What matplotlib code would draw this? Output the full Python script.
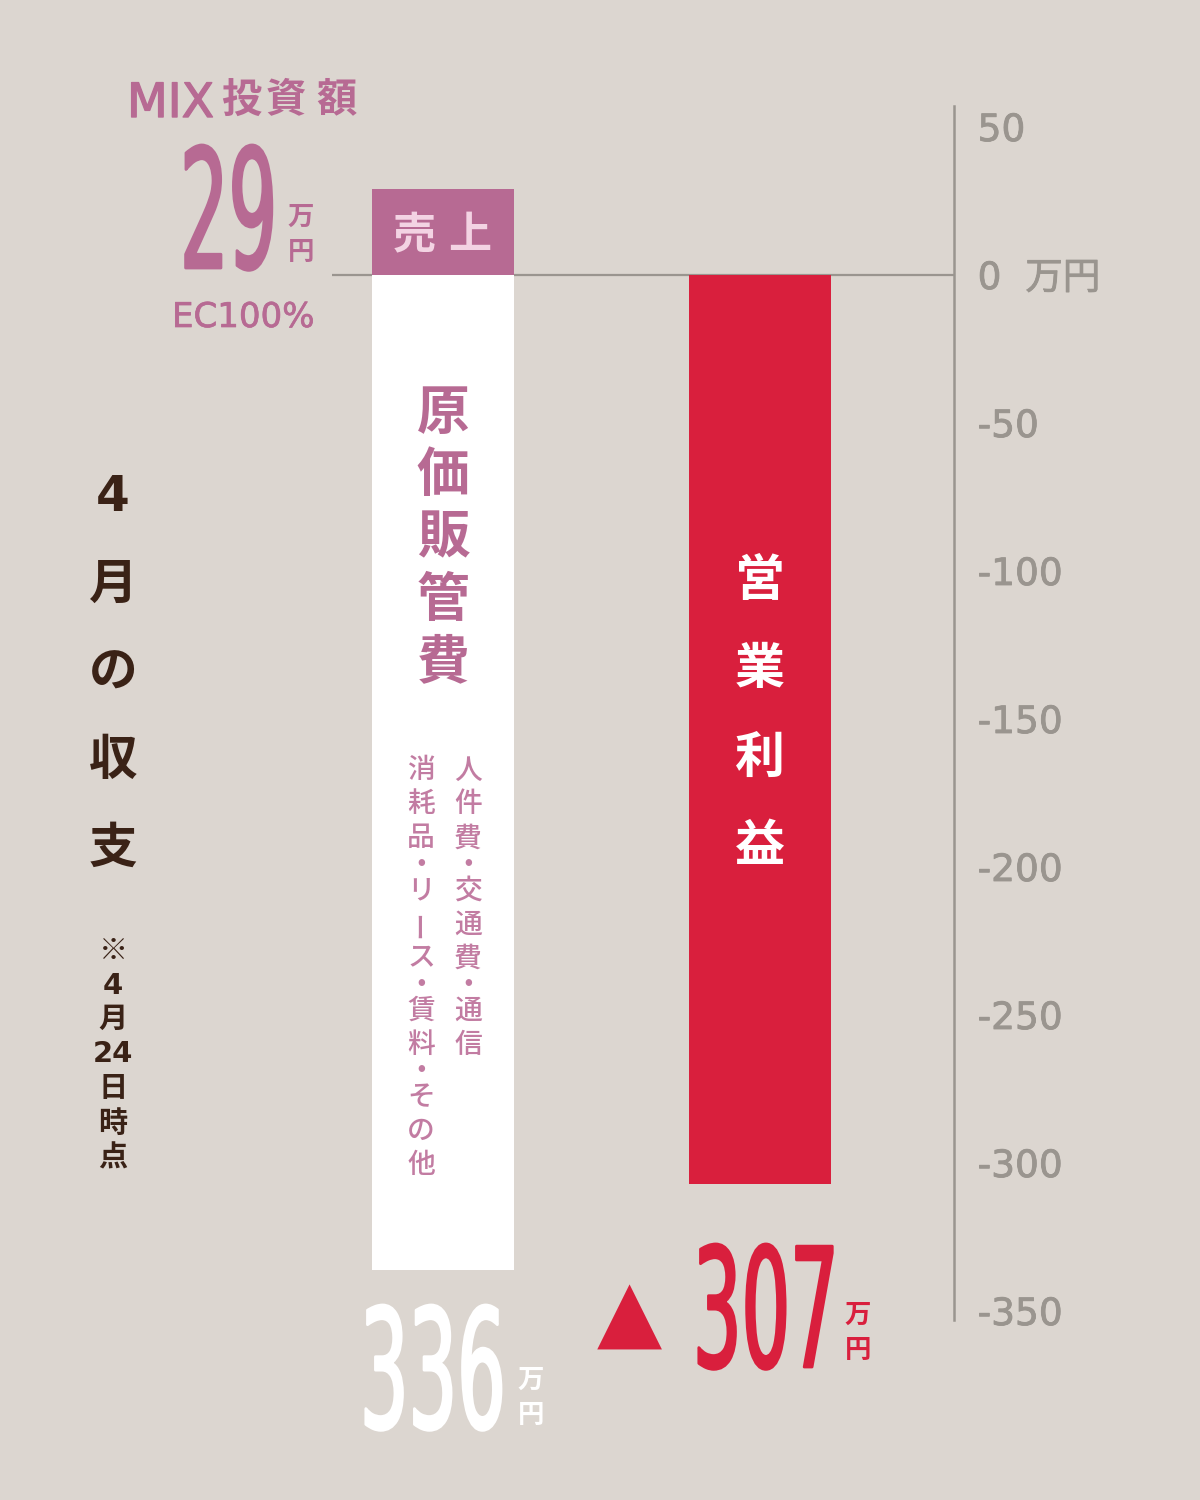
import matplotlib.pyplot as plt
from matplotlib import patheffects
from matplotlib.patheffects import AbstractPathEffect
from matplotlib.transforms import Affine2D

# values in 万円
sales = 29
cost = 336
profit = -307
tick_vals = [50, 0, -50, -100, -150, -200, -250, -300, -350]
tick_labels = ['50', '0  万円', '-50', '-100', '-150', '-200', '-250', '-300', '-350']

title_lines = ['4', '月', 'の', '収', '支']
note = ['※', '4', '月', '24', '日', '時', '点']
sales_label = '売上'
cost_label = '原価販管費'
cost_items_1 = '人件費・交通費・通信'
cost_items_2 = '消耗品・リース・賃料・その他'
profit_label = '営業利益'
mix_label = 'MIX投資額'
ec_label = 'EC100%'
unit = '万円'

BG = '#DCD6D0'
PINK = '#B76A93'
PINK_TXT = '#C27CA2'
RED = '#D91F3D'
GRAY = '#9A958F'
BROWN = '#3A2216'
CJK = ['Noto Sans CJK JP', 'DejaVu Sans']
LAT = ['DejaVu Sans', 'Noto Sans CJK JP']


class Tall(AbstractPathEffect):
    # stretch glyphs upward from the baseline (tall condensed numerals)
    def __init__(self, sy, lw=0):
        super().__init__()
        self.sy = sy
        self.lw = lw

    def draw_path(self, renderer, gc, tpath, affine, rgbFace=None):
        tr = Affine2D().scale(1, self.sy) + affine
        g = renderer.new_gc()
        g.copy_properties(gc)
        if self.lw:
            g.set_linewidth(self.lw)
            g.set_foreground(rgbFace)
            g.set_joinstyle('round')
        renderer.draw_path(g, tpath, tr, rgbFace)
        g.restore()


fig = plt.figure(figsize=(12, 15), dpi=100, facecolor=BG)
ax = fig.add_axes([0, 0, 1, 1])
ax.set_facecolor(BG)
ax.set_xlim(0, 1200)
ax.set_ylim((275 - 1500) / 2.96, 275 / 2.96)

# pixel coords from top-left for free text
px = Affine2D().scale(1 / 1200, -1 / 1500).translate(0, 1) + fig.transFigure

ax.hlines(0, 332, 954, color=GRAY, lw=1.6, zorder=1)
ax.bar([443], [sales], width=142, color=PINK, zorder=2)
ax.bar([443], [-cost], width=142, color='white', zorder=2)
ax.bar([760], [profit], width=142, color=RED, zorder=2)

for s in ['top', 'left', 'bottom']:
    ax.spines[s].set_visible(False)
ax.spines['right'].set_position(('data', 954))
ax.spines['right'].set_bounds(-353, 57)
ax.spines['right'].set_color(GRAY)
ax.spines['right'].set_linewidth(1.8)
ax.set_xticks([])
ax.yaxis.tick_right()
ax.set_yticks(tick_vals, tick_labels)
ax.tick_params(axis='y', length=0, pad=17, labelsize=27, labelcolor=GRAY)
for t in ax.get_yticklabels():
    t.set_family(LAT)
    t.set_path_effects([patheffects.withStroke(linewidth=0.6, foreground=GRAY)])


def vtext(x, y, chars, step, size, color, weight='bold', short=0.53, family=CJK):
    pos = y
    prev = None
    for c in chars:
        h = step * short if c == '・' else step
        if prev is not None:
            pos += (prev + h) / 2
        rot = 90 if c == 'ー' else 0
        fam = CJK if c == '※' else family
        ax.text(x, pos, c, transform=px, ha='center', va='center', fontsize=size,
                color=color, fontweight=weight, family=fam, rotation=rot,
                rotation_mode='anchor')
        prev = h


def unit_text(x, y, color):
    # y = centre of the first character
    ax.text(x, y - 14, '\n'.join(unit), transform=px, ha='center', va='top', fontsize=19,
            color=color, fontweight='bold', family=CJK, linespacing=1.36)


def big_number(x, y, value, color):
    ax.text(x, y, f'{value}', transform=px, ha='left', va='baseline', fontsize=55,
            color=color, family='DejaVu Sans', path_effects=[Tall(2.17, 2.0)])


# headline block
ax.text(127, 117, mix_label[:3], transform=px, ha='left', va='baseline', fontsize=34,
        color=PINK, family=LAT,
        path_effects=[patheffects.withStroke(linewidth=1.0, foreground=PINK)])
for c, cx in zip(mix_label[3:], [241, 286, 336]):
    ax.text(cx, 100, c, transform=px, ha='center', va='center', fontsize=29,
            color=PINK, fontweight='bold', family=CJK)
big_number(180, 268, sales, PINK)
unit_text(301, 218, PINK)
ax.text(172, 327, ec_label, transform=px, ha='left', va='baseline', fontsize=24.5,
        color=PINK, family=LAT,
        path_effects=[patheffects.withStroke(linewidth=0.5, foreground=PINK)])

# bar labels
ax.text(414, 235, sales_label[0], transform=px, ha='center', va='center', fontsize=31,
        color='#F3D3E3', fontweight='bold', family=CJK)
ax.text(470, 235, sales_label[1], transform=px, ha='center', va='center', fontsize=31,
        color='#F3D3E3', fontweight='bold', family=CJK)
vtext(443, 413, cost_label, 62.5, 38, PINK)
vtext(468, 770, cost_items_1, 34, 20, PINK_TXT, weight='medium')
vtext(421, 770, cost_items_2, 34, 20, PINK_TXT, weight='medium')
vtext(760, 582, profit_label, 88, 36, 'white')

# left title and note
vtext(113, 497, title_lines, 88, 35, BROWN, family=LAT)
vtext(113, 951, note, 34.5, 21, BROWN, family=LAT)

# totals
big_number(360, 1428, cost, 'white')
unit_text(531, 1381, 'white')
ax.text(629, 1316, '▲', transform=px, ha='center', va='center', fontsize=61,
        color=RED, family='DejaVu Sans')
big_number(693, 1367, abs(profit), RED)
unit_text(858, 1316, RED)

fig.savefig('out.png', dpi=100, facecolor=BG)
